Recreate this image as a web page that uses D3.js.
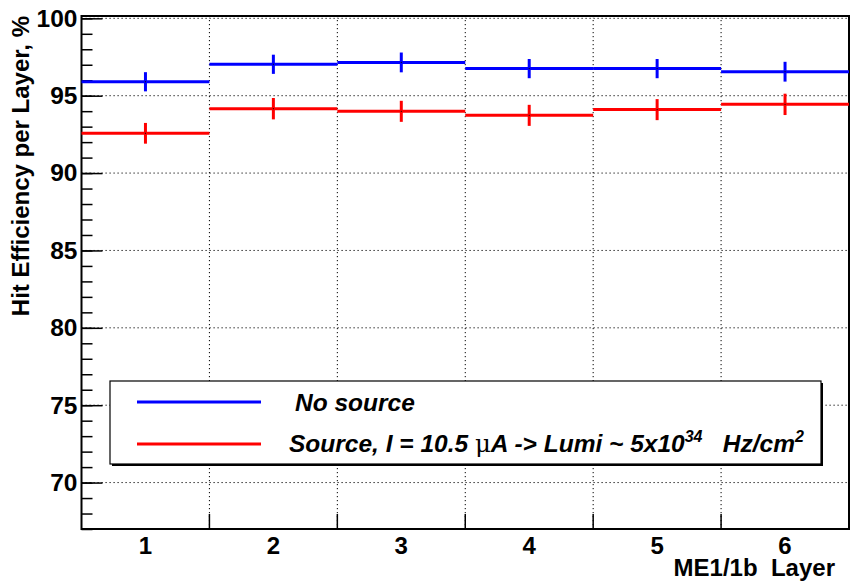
<!DOCTYPE html>
<html>
<head>
<meta charset="utf-8">
<script src="https://cdn.jsdelivr.net/npm/d3@7"></script>
<style>
  body { margin: 0; background: #fff; }
  text { font-family: "Liberation Sans", Arial, Helvetica, sans-serif; font-weight: bold; }
</style>
</head>
<body>
<div id="chart"></div>
<script>
// layers of ME1/1b chamber
var layers = [1, 2, 3, 4, 5, 6];
// efficiency without source, % and its error
var noSource = [95.9, 97.03, 97.15, 96.75, 96.75, 96.55];
var noSourceErr = [0.62, 0.62, 0.64, 0.62, 0.62, 0.64];
// efficiency with source at 10.5 uA, % and its error
var withSource = [92.57, 94.16, 93.99, 93.73, 94.1, 94.44];
var withSourceErr = [0.67, 0.69, 0.68, 0.68, 0.68, 0.69];
var yMajor = [70, 75, 80, 85, 90, 95, 100];
var yMinor = d3.range(67, 101);

var w = 850, h = 581;
var padLeft = 81.5, padRight = 849, padTop = 16, padBottom = 529;

var svg = d3.select("#chart").append("svg")
  .attr("width", w)
  .attr("height", h);

var x = d3.scaleLinear().domain([0.5, 6.5]).range([padLeft, padRight]);
var y = d3.scaleLinear().domain([67, 100.15]).range([padBottom, padTop]);

// grid
var binEdges = d3.range(1.5, 6.5, 1);
svg.append("g").selectAll("line")
  .data(binEdges)
  .enter().append("line")
  .attr("x1", function(d) { return x(d); })
  .attr("x2", function(d) { return x(d); })
  .attr("y1", padTop)
  .attr("y2", padBottom)
  .attr("stroke", "#000")
  .attr("stroke-width", 1)
  .attr("stroke-dasharray", "1.2,2.8");

svg.append("g").selectAll("line")
  .data(yMajor)
  .enter().append("line")
  .attr("x1", padLeft)
  .attr("x2", padRight)
  .attr("y1", function(d) { return y(d); })
  .attr("y2", function(d) { return y(d); })
  .attr("stroke", "#000")
  .attr("stroke-width", 1)
  .attr("stroke-dasharray", "1.2,2.8");

// y axis, ticks pointing inward
var yMinorAxis = d3.axisLeft(y).tickValues(yMinor).tickSize(-11).tickFormat("");
var yMajorAxis = d3.axisLeft(y).tickValues(yMajor).tickSize(-21).tickPadding(4);

svg.append("g")
  .attr("transform", "translate(" + padLeft + ",0)")
  .call(yMinorAxis)
  .call(function(g) { g.select(".domain").remove(); })
  .selectAll("line").attr("stroke-width", 1.5);

var gy = svg.append("g")
  .attr("transform", "translate(" + padLeft + ",0)")
  .call(yMajorAxis);
gy.select(".domain").remove();
gy.selectAll("line").attr("stroke-width", 1.5);
gy.selectAll("text")
  .attr("font-size", 24.5)
  .attr("fill", "#000")
  .attr("font-family", "Liberation Sans, Arial, sans-serif")
  .attr("font-weight", "bold");

// x axis: ticks at bin edges, labels at bin centres
svg.append("g").selectAll("line")
  .data(binEdges)
  .enter().append("line")
  .attr("x1", function(d) { return x(d); })
  .attr("x2", function(d) { return x(d); })
  .attr("y1", padBottom)
  .attr("y2", padBottom - 15)
  .attr("stroke", "#000")
  .attr("stroke-width", 1.5);

svg.append("g").selectAll("text")
  .data(layers)
  .enter().append("text")
  .attr("x", function(d) { return x(d); })
  .attr("y", 554)
  .attr("text-anchor", "middle")
  .attr("font-size", 24)
  .text(function(d) { return d; });

// frame
svg.append("rect")
  .attr("x", padLeft)
  .attr("y", padTop)
  .attr("width", padRight - padLeft)
  .attr("height", padBottom - padTop)
  .attr("fill", "none")
  .attr("stroke", "#000")
  .attr("stroke-width", 2);

// axis titles
svg.append("text")
  .attr("transform", "translate(29," + padTop + ") rotate(-90)")
  .attr("text-anchor", "end")
  .attr("font-size", 24)
  .text("Hit Efficiency per Layer, %");

svg.append("text")
  .attr("x", 835)
  .attr("y", 576)
  .attr("text-anchor", "end")
  .attr("font-size", 24)
  .attr("xml:space", "preserve")
  .text("ME1/1b  Layer");

// histograms with error bars
function drawSeries(vals, errs, color) {
  var g = svg.append("g");
  g.selectAll(".hbar")
    .data(vals)
    .enter().append("line")
    .attr("x1", function(d, i) { return x(layers[i] - 0.5); })
    .attr("x2", function(d, i) { return x(layers[i] + 0.5); })
    .attr("y1", function(d) { return y(d); })
    .attr("y2", function(d) { return y(d); })
    .attr("stroke", color)
    .attr("stroke-width", 3);
  g.selectAll(".ebar")
    .data(vals)
    .enter().append("line")
    .attr("x1", function(d, i) { return x(layers[i]); })
    .attr("x2", function(d, i) { return x(layers[i]); })
    .attr("y1", function(d, i) { return y(d - errs[i]); })
    .attr("y2", function(d, i) { return y(d + errs[i]); })
    .attr("stroke", color)
    .attr("stroke-width", 3);
  g.selectAll(".dot")
    .data(vals)
    .enter().append("rect")
    .attr("x", function(d, i) { return x(layers[i]) - 0.5; })
    .attr("y", function(d) { return y(d) - 0.5; })
    .attr("width", 1)
    .attr("height", 1)
    .attr("fill", "#000");
}
drawSeries(noSource, noSourceErr, "#0000ff");
drawSeries(withSource, withSourceErr, "#ff0000");

// legend
var lg = svg.append("g");
lg.append("rect")
  .attr("x", 112).attr("y", 383)
  .attr("width", 711).attr("height", 83)
  .attr("fill", "#000");
lg.append("rect")
  .attr("x", 110).attr("y", 381)
  .attr("width", 711).attr("height", 83)
  .attr("fill", "#fff")
  .attr("stroke", "#000")
  .attr("stroke-width", 1.2);

lg.append("line")
  .attr("x1", 137).attr("x2", 261)
  .attr("y1", 402).attr("y2", 402)
  .attr("stroke", "#0000ff").attr("stroke-width", 3);
lg.append("line")
  .attr("x1", 137).attr("x2", 261)
  .attr("y1", 444).attr("y2", 444)
  .attr("stroke", "#ff0000").attr("stroke-width", 3);

lg.append("text")
  .attr("x", 295).attr("y", 411)
  .attr("font-size", 24.5)
  .attr("font-style", "italic")
  .text("No source");

var t2 = lg.append("text")
  .attr("x", 289).attr("y", 452)
  .attr("font-size", 24.5)
  .attr("font-style", "italic")
  .attr("xml:space", "preserve");
t2.append("tspan").text("Source, I = 10.5 ");
t2.append("tspan").attr("font-style", "normal").attr("font-weight", "normal")
  .attr("font-family", "DejaVu Serif, serif").text("\u03bc");
t2.append("tspan").text("A -> Lumi ~ 5x10");
t2.append("tspan").attr("font-size", 16).attr("dy", -10).text("34");
t2.append("tspan").attr("dy", 10).text("   Hz/cm");
t2.append("tspan").attr("font-size", 16).attr("dy", -10).text("2");
</script>
</body>
</html>
